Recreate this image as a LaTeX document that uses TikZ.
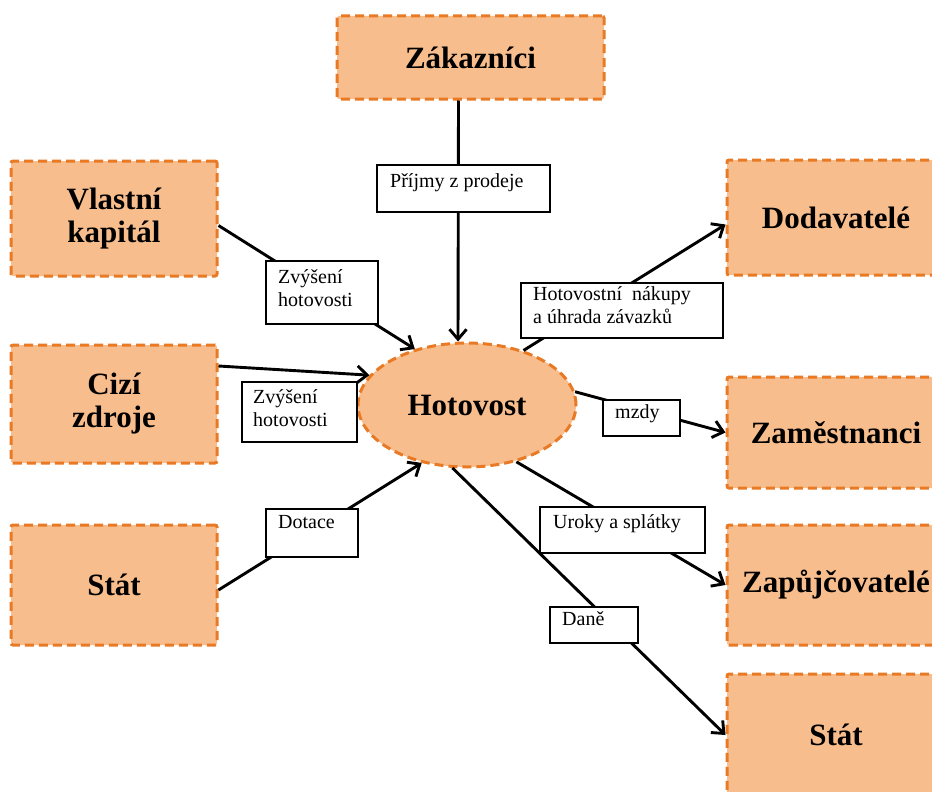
\documentclass[tikz,border=0pt]{standalone}
\usepackage{fontspec}
\setmainfont{Liberation Serif}
\usetikzlibrary{shapes.geometric,arrows.meta,calc}
\definecolor{boxfill}{HTML}{F8BD8C}
\definecolor{boxline}{HTML}{E97A25}
\tikzset{
  party/.style={rectangle, draw=boxline, fill=boxfill, line width=3pt,
    dash pattern=on 9pt off 5pt, rounded corners=2pt, align=center,
    font=\fontsize{31}{33}\selectfont\bfseries, inner sep=0pt},
  cash/.style={ellipse, draw=boxline, fill=boxfill, line width=3pt,
    dash pattern=on 9pt off 5pt, inner sep=0pt,
    font=\fontsize{31}{33}\selectfont\bfseries},
  lblbox/.style={rectangle, draw=black, fill=white, line width=1.8pt,
    anchor=north west, inner sep=0pt},
  lbltext/.style={anchor=base west, inner sep=0pt, align=left,
    font=\fontsize{20}{23}\selectfont},
  flow/.style={draw=black, line width=2.9pt,
    -{Straight Barb[length=10pt,width=17pt,line width=2.9pt]}},
}
\begin{document}
\begin{tikzpicture}[x=1pt,y=-1pt]
\useasboundingbox (0,0) rectangle (932,792);
\clip (0,0) rectangle (932,792);
% parties
\node[party, minimum width=267, minimum height=83] (zak) at (470.5,57.5) {Zákazníci};
\node[party, minimum width=206, minimum height=115] (vk) at (114,218.5) {Vlastní\\kapitál};
\node[party, minimum width=206, minimum height=118] (cz) at (114,404) {Cizí\\zdroje};
\node[party, minimum width=206, minimum height=120] (st1) at (114,585) {Stát};
\node[party, minimum width=218, minimum height=115] (dod) at (836,217.5) {Dodavatelé};
\node[party, minimum width=218, minimum height=111] (zam) at (836,432.5) {Zaměstnanci};
\node[party, minimum width=218, minimum height=120] (zap) at (836,585) {Zapůjčovatelé};
\node[party, minimum width=218, minimum height=122] (st2) at (836,735) {Stát};
\node[cash, minimum width=218, minimum height=124] (h) at (467,405) {Hotovost};
% flows
\draw[flow] ([xshift=-12pt]zak.south) -- ([xshift=-9pt]h.north);
\draw[flow] ([yshift=-7pt]vk.east) -- (h.133);
\draw[flow] ([yshift=38pt]cz.east) -- (h.163);
\draw[flow] ([yshift=-5pt]st1.east) -- (h.232);
\draw[flow] (h.44) -- ([yshift=-7pt]dod.west);
\draw[flow] (h.7) -- (zam.west);
\draw[flow] (h.311) -- (zap.west);
\draw[flow] (h.257) -- (st2.west);
% labels
\node[lblbox, minimum width=173, minimum height=47] (l1) at (376,164) {};
\node[lbltext] (t1) at ($(l1.north west)+(14,23)$) {Příjmy z prodeje};
\node[lblbox, minimum width=112, minimum height=63] (l2) at (265,260) {};
\node[lbltext] (t2) at ($(l2.north west)+(13,46)$) {Zvýšení\\hotovosti};
\node[lblbox, minimum width=115, minimum height=60] (l3) at (241,381) {};
\node[lbltext] (t3) at ($(l3.north west)+(12,45)$) {Zvýšení\\hotovosti};
\node[lblbox, minimum width=92, minimum height=48] (l4) at (265,508) {};
\node[lbltext] (t4) at ($(l4.north west)+(13,20)$) {Dotace};
\node[lblbox, minimum width=202, minimum height=55] (l5) at (520,282) {};
\node[lbltext] (t5) at ($(l5.north west)+(13,41)$) {Hotovostní\ \ nákupy\\a úhrada závazků};
\node[lblbox, minimum width=77, minimum height=36] (l6) at (602,399) {};
\node[lbltext] (t6) at ($(l6.north west)+(13,19)$) {mzdy};
\node[lblbox, minimum width=165, minimum height=46] (l7) at (539,506) {};
\node[lbltext] (t7) at ($(l7.north west)+(14,22)$) {Uroky a splátky};
\node[lblbox, minimum width=88, minimum height=36] (l8) at (549,606) {};
\node[lbltext] (t8) at ($(l8.north west)+(13,19)$) {Daně};
\end{tikzpicture}
\end{document}
